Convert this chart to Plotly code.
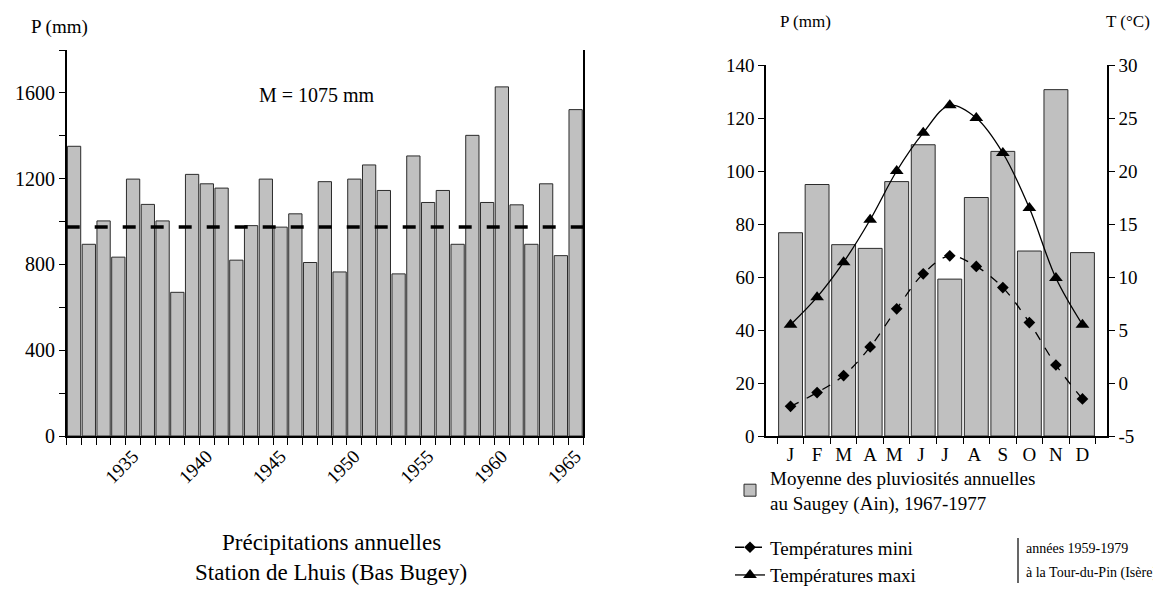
import plotly.graph_objects as go

# --- left chart: annual precipitation, Lhuis station ---
YEARS = list(range(1931, 1966))
PRECIP_ANNUAL = [1351, 894, 1003, 834, 1198, 1080, 1003, 670, 1220, 1176,
                 1156, 820, 981, 1198, 974, 1036, 809, 1186, 765, 1198,
                 1264, 1145, 756, 1306, 1089, 1145, 894, 1402, 1089, 1628,
                 1078, 894, 1176, 841, 1522]
MEAN_LINE = 975
YEAR_TICKS = [1935, 1940, 1945, 1950, 1955, 1960, 1965]

# --- right chart: monthly climate diagram ---
MONTHS = ["J", "F", "M", "A", "M ", "J ", "J  ", "A ", "S", "O", "N", "D"]
PRECIP_MONTHLY = [76.7, 94.9, 72.2, 70.8, 96.0, 109.9, 59.2, 90.0, 107.4, 69.8, 130.7, 69.2]
T_MAX = [5.5, 8.1, 11.4, 15.4, 20.0, 23.6, 26.2, 25.0, 21.7, 16.5, 9.9, 5.5]
T_MIN = [-2.2, -0.9, 0.7, 3.4, 7.0, 10.3, 12.0, 11.0, 9.0, 5.7, 1.7, -1.5]
T_TICKS = [-5, 0, 5, 10, 15, 20, 25, 30]

W, H = 1161, 613
OFF = 8  # page body margin
FONT = "Liberation Serif, Times New Roman, serif"
BAR_FILL = "#c0c0c0"
BAR_EDGE = "#2b2b2b"


# screen pixel -> paper fraction
def px_x(p):
    return (p - OFF) / (W - OFF)


def px_y(p):
    return 1 - (p - OFF) / (H - OFF)


fig = go.Figure()

fig.add_trace(go.Bar(
    x=YEARS, y=PRECIP_ANNUAL, xaxis="x", yaxis="y",
    marker=dict(color=BAR_FILL, line=dict(color=BAR_EDGE, width=1)),
    showlegend=False,
))
fig.add_trace(go.Scatter(
    x=[YEARS[0] - 0.5, YEARS[-1] + 0.5], y=[MEAN_LINE, MEAN_LINE],
    xaxis="x", yaxis="y", mode="lines",
    line=dict(color="black", width=3.5, dash="13px,15px"),
    showlegend=False,
))

fig.add_trace(go.Bar(
    x=MONTHS, y=PRECIP_MONTHLY, xaxis="x2", yaxis="y2",
    marker=dict(color=BAR_FILL, line=dict(color=BAR_EDGE, width=1)),
    name="Moyenne des pluviosités annuelles<br>au Saugey (Ain), 1967-1977",
    legendgroup="a",
))
fig.add_trace(go.Scatter(
    x=MONTHS, y=T_MIN, xaxis="x2", yaxis="y3", mode="lines+markers",
    line=dict(color="black", width=1.3, dash="dash", shape="spline"),
    marker=dict(symbol="diamond", size=9, color="black"),
    name="Températures mini", legendgroup="b",
))
fig.add_trace(go.Scatter(
    x=MONTHS, y=T_MAX, xaxis="x2", yaxis="y3", mode="lines+markers",
    line=dict(color="black", width=1.3, shape="spline"),
    marker=dict(symbol="triangle-up", size=12, color="black"),
    name="Températures maxi", legendgroup="b",
))

axis_common = dict(showgrid=False, zeroline=False, showline=True,
                   linecolor="black", linewidth=1.5, tickcolor="black")
tick_font = dict(family=FONT, size=19, color="black")

fig.update_layout(
    width=W - OFF, height=H - OFF,
    margin=dict(l=0, r=0, t=0, b=0, autoexpand=False),
    paper_bgcolor="white", plot_bgcolor="white",
    font=dict(family=FONT, size=18, color="black"),
    bargap=0.1,
    xaxis=dict(
        domain=[px_x(66.7), px_x(583)], anchor="y",
        range=[YEARS[0] - 0.5, YEARS[-1] + 0.5],
        tickmode="array", tickvals=YEAR_TICKS,
        ticktext=[str(v) for v in YEAR_TICKS],
        tickangle=-45, ticks="", ticklen=0,
        tickfont=dict(family=FONT, size=19, color="black"),
        minor=dict(tickmode="linear", tick0=YEARS[0] - 0.5, dtick=1,
                   ticks="outside", ticklen=7, tickcolor="black", tickwidth=1),
        **axis_common,
    ),
    yaxis=dict(
        domain=[px_y(436), px_y(50)], anchor="x",
        range=[0, 1800], tickmode="linear", tick0=0, dtick=400,
        ticks="outside", ticklen=6, mirror=True,
        tickfont=dict(family=FONT, size=20, color="black"),
        minor=dict(tickmode="linear", tick0=0, dtick=200,
                   ticks="outside", ticklen=6, tickcolor="black"),
        **axis_common,
    ),
    xaxis2=dict(
        domain=[px_x(766), px_x(1107)], anchor="y2",
        tickson="boundaries", ticks="outside", ticklen=6, tickangle=0,
        tickfont=tick_font,
        **axis_common,
    ),
    yaxis2=dict(
        domain=[px_y(436), px_y(65)], anchor="x2",
        range=[0, 140], dtick=20, ticks="outside", ticklen=6,
        tickfont=tick_font,
        **axis_common,
    ),
    yaxis3=dict(
        overlaying="y2", side="right", anchor="x2",
        range=[-5, 30], tickmode="array", tickvals=T_TICKS,
        ticktext=[str(v) for v in T_TICKS], ticks="outside", ticklen=6,
        tickfont=tick_font,
        **axis_common,
    ),
    legend=dict(
        x=px_x(730), y=px_y(459), xanchor="left", yanchor="top",
        font=dict(family=FONT, size=19), tracegroupgap=17,
        bgcolor="rgba(0,0,0,0)", itemwidth=30,
    ),
)


def note(x, y, text, size, xanchor="center"):
    fig.add_annotation(x=px_x(x), y=px_y(y), xref="paper", yref="paper",
                       text=text, showarrow=False, xanchor=xanchor,
                       yanchor="middle", font=dict(size=size))


fig.add_annotation(x=1947.5, y=1590, xref="x", yref="y", text="M = 1075 mm",
                   showarrow=False, font=dict(size=20))
note(59, 27, "P (mm)", 19)
note(331, 542, "Précipitations annuelles", 23)
note(331, 572, "Station de Lhuis (Bas Bugey)", 23)
note(805, 22, "P (mm)", 17)
note(1128, 22, "T (°C)", 17)
note(1024, 548, "années 1959-1979", 14, xanchor="left")
note(1024, 573, "à la Tour-du-Pin (Isère)", 14, xanchor="left")
fig.add_shape(type="line", xref="paper", yref="paper",
              x0=px_x(1018), x1=px_x(1018), y0=px_y(538), y1=px_y(583),
              line=dict(color="black", width=1.2))

fig.write_html("out.html")
